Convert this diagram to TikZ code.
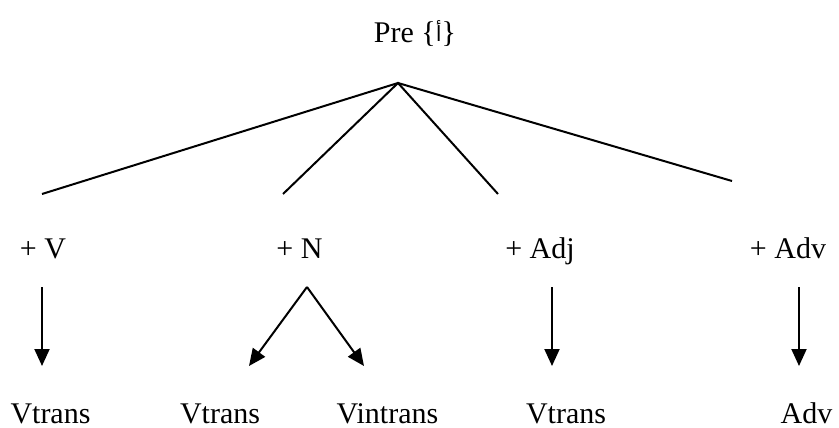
\documentclass[tikz,border=0pt]{standalone}
\usepackage{fontspec}
\setmainfont{Liberation Serif}
\newfontfamily\arabicfont[Script=Arabic]{DejaVu Sans}
\TeXXeTstate=1
\usetikzlibrary{arrows.meta}
\tikzset{
  lbl/.style={anchor=base, inner sep=0pt, font=\fontsize{30}{36}\selectfont},
  branch/.style={line width=2pt},
  arr/.style={line width=2pt, -{Triangle[length=17pt,width=15pt]}}
}
\begin{document}
\begin{tikzpicture}[x=1pt,y=-1pt]
\useasboundingbox (0,0) rectangle (839,428);
% top label
\node[lbl] (pre) at (415,43) {Pre \{\raisebox{1pt}{\arabicfont\fontsize{21}{24}\selectfont\beginR أ\endR}\}};
% tree
\coordinate (apex) at (398,83);
\coordinate (eV) at (42,194);
\coordinate (eN) at (283,194);
\coordinate (eAdj) at (498,194);
\coordinate (eAdv) at (732,181);
\draw[branch] (eV) -- (apex) -- (eAdv);
\draw[branch] (eN) -- (apex) -- (eAdj);
% category labels
\node[lbl] (pV) at (43,258) {+ V};
\node[lbl] (pN) at (299.5,258) {+ N};
\node[lbl] (pAdj) at (540,258) {+ Adj};
\node[lbl] (pAdv) at (788,258) {+ Adv};
% arrow starts / tips
\coordinate (sV) at (42,287);
\coordinate (tV) at (42,366);
\coordinate (sN) at (307,287);
\coordinate (tN1) at (249,366);
\coordinate (tN2) at (364,366);
\coordinate (sAdj) at (552,287);
\coordinate (tAdj) at (552,366);
\coordinate (sAdv) at (799,287);
\coordinate (tAdv) at (799,366);
\draw[arr] (sV) -- (tV);
\draw[arr] (sN) -- (tN1);
\draw[arr] (sN) -- (tN2);
\draw[arr] (sAdj) -- (tAdj);
\draw[arr] (sAdv) -- (tAdv);
% bottom labels
\node[lbl] (bV) at (50.5,423) {Vtrans};
\node[lbl] (bN1) at (220,423) {Vtrans};
\node[lbl] (bN2) at (387.5,423) {Vintrans};
\node[lbl] (bAdj) at (566,423) {Vtrans};
\node[lbl] (bAdv) at (806.5,423) {Adv};
\end{tikzpicture}
\end{document}
